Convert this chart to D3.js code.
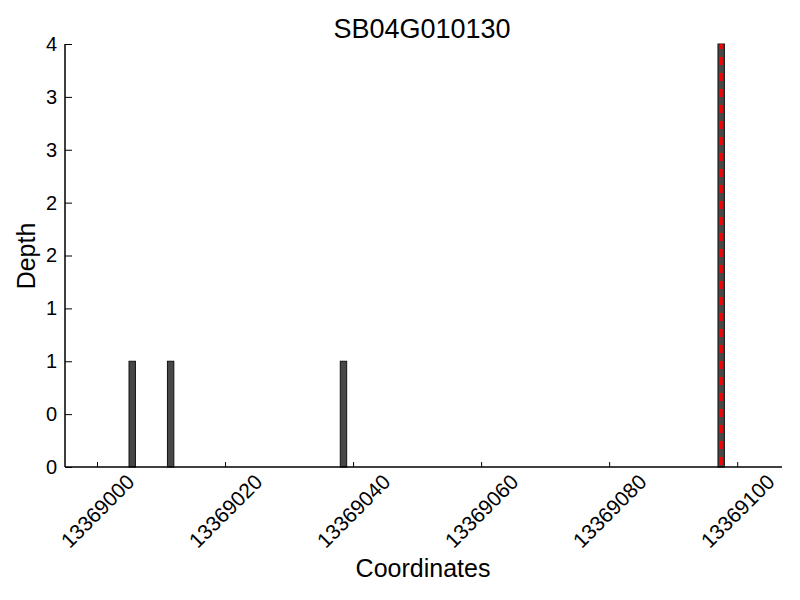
<!DOCTYPE html>
<html>
<head>
<meta charset="utf-8">
<script src="https://cdn.jsdelivr.net/npm/d3@7"></script>
<style>
  body { margin: 0; background: #fff; }
  text { font-family: "Liberation Sans", Arial, sans-serif; }
</style>
</head>
<body>
<script>
// read depth spans (start, end, depth) off the picture
var binStart = [13369005, 13369011, 13369038, 13369097];
var binEnd   = [13369006, 13369012, 13369039, 13369098];
var depth    = [1, 1, 1, 4];
var markPos  = [13369097.5];            // red dashed marker
var xTicks   = [13369000, 13369020, 13369040, 13369060, 13369080, 13369100];
var yTicks   = [0, 0.5, 1, 1.5, 2, 2.5, 3, 3.5, 4];

var width = 800, height = 600;
var svg = d3.select("body").append("svg")
  .attr("width", width)
  .attr("height", height);

var x = d3.scaleLinear().domain([13368995, 13369107]).range([65, 782]);
var y = d3.scaleLinear().domain([0, 4]).range([467, 44]);

var g = svg.append("g");

g.selectAll(".bar").data(depth).enter()
  .append("rect")
  .attr("class", "bar")
  .attr("x", function(d, i) { return x(binStart[i]); })
  .attr("width", function(d, i) { return x(binEnd[i]) - x(binStart[i]); })
  .attr("y", function(d) { return y(d); })
  .attr("height", function(d) { return y(0) - y(d); })
  .attr("fill", "#474747")
  .attr("stroke", "#111")
  .attr("stroke-width", 1);

g.selectAll(".mark").data(markPos).enter()
  .append("line")
  .attr("x1", function(d) { return x(d); })
  .attr("x2", function(d) { return x(d); })
  .attr("y1", y(4))
  .attr("y2", y(0))
  .attr("stroke", "red")
  .attr("stroke-width", 3)
  .attr("stroke-dasharray", "8,8")
  .attr("stroke-dashoffset", 3);

// axes (ticks point inward)
var xAxis = d3.axisBottom(x).tickValues(xTicks).tickSize(-5).tickPadding(8)
  .tickFormat(d3.format("d"));
var gx = svg.append("g").attr("transform", "translate(0," + y(0) + ")").call(xAxis);
gx.select(".domain").attr("d", "M" + x.range()[0] + ",0H" + x.range()[1]).attr("stroke-width", 1.5);
gx.selectAll("text")
  .style("font-size", "21px")
  .attr("fill", "#000")
  .attr("text-anchor", "middle")
  .attr("dy", "0.35em")
  .attr("transform", "translate(0,44) rotate(-45)")
  .attr("y", 0).attr("x", 0);

var yAxis = d3.axisLeft(y).tickValues(yTicks).tickSize(-7).tickPadding(8)
  .tickFormat(function(d) { return Math.floor(d); });
var gy = svg.append("g").attr("transform", "translate(" + x.range()[0] + ",0)").call(yAxis);
gy.select(".domain").attr("d", "M0," + y(0) + "V" + y(4)).attr("stroke-width", 1.5);
gy.selectAll("text").style("font-size", "20px").attr("fill", "#000");

svg.append("text")
  .attr("x", 422).attr("y", 38)
  .attr("text-anchor", "middle")
  .style("font-size", "27px")
  .text("SB04G010130");

svg.append("text")
  .attr("x", 423).attr("y", 577)
  .attr("text-anchor", "middle")
  .style("font-size", "25px")
  .text("Coordinates");

svg.append("text")
  .attr("transform", "translate(35,256) rotate(-90)")
  .attr("text-anchor", "middle")
  .style("font-size", "25px")
  .text("Depth");
</script>
</body>
</html>
